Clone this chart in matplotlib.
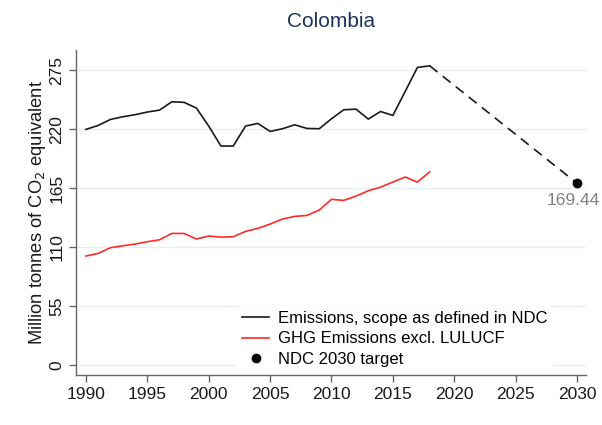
import matplotlib
matplotlib.use("Agg")
import matplotlib.pyplot as plt

plt.rcParams['font.family'] = ['Liberation Sans', 'DejaVu Sans']

years = list(range(1990, 2019))
ndc_scope = [219.7, 223.4, 229.0, 231.5, 233.4, 235.9, 237.7, 245.5, 244.9, 239.6,
             222.8, 204.2, 204.2, 222.8, 225.3, 217.8, 220.3, 224.0, 220.6, 220.3,
             229.6, 238.0, 238.6, 229.3, 236.4, 232.7, 255.0, 277.5, 279.0]
ghg_excl_lulucf = [101.6, 104.1, 109.4, 111.2, 112.8, 115.0, 116.8, 122.7, 122.7, 117.5,
                   120.3, 119.3, 119.6, 124.6, 127.4, 131.4, 136.1, 138.6, 139.5, 144.5,
                   154.5, 153.5, 157.5, 162.5, 165.9, 170.6, 175.3, 170.6, 180.2]
target_year = 2030
target_value = 169.44

xticks = [1990, 1995, 2000, 2005, 2010, 2015, 2020, 2025, 2030]
yticks = [0, 55, 110, 165, 220, 275]

fig = plt.figure(figsize=(6.02, 4.25), dpi=100)
ax = fig.add_axes([0.1262, 0.1176, 0.8472, 0.7644])

for y in yticks:
    ax.axhline(y, color='#e6eef2', lw=1.0, zorder=0)

ax.plot(years, ndc_scope, color='#1a1a1a', lw=1.2,
        label='Emissions, scope as defined in NDC', zorder=3)
ax.plot(years, ghg_excl_lulucf, color='#ff2a2a', lw=1.2,
        label='GHG Emissions excl. LULUCF', zorder=3)
ax.plot([years[-1], target_year], [ndc_scope[-1], target_value],
        color='#1a1a1a', lw=1.2, ls=(0, (6, 4)), zorder=3)
ax.plot([target_year], [target_value], marker='o', color='black', ms=6,
        label='NDC 2030 target', zorder=4, linestyle='none')
ax.annotate(f'{target_value:.2f}', (target_year, target_value),
            xytext=(-3, -7), textcoords='offset points', ha='center', va='top',
            color='#808080', fontsize=12.5)

ax.set_xlim(1989.19, 2030.73)
ax.set_ylim(-9.3, 293.6)
ax.set_xticks(xticks)
ax.set_yticks(yticks)
ax.tick_params(axis='both', labelsize=12.5, color='#666666', length=5,
               width=1, labelcolor='#1a1a1a')
for lbl in ax.get_yticklabels():
    lbl.set_rotation(90)
    lbl.set_va('center')

for side in ['top', 'right']:
    ax.spines[side].set_visible(False)
for side in ['left', 'bottom']:
    ax.spines[side].set_color('#666666')
    ax.spines[side].set_linewidth(1.0)

ax.set_ylabel('Million tonnes of CO$_2$ equivalent', fontsize=13.2,
              color='#1a1a1a', labelpad=1)
ax.set_title('Colombia', fontsize=15, color='#1e3559', pad=17)

leg = ax.legend(loc='upper left', bbox_to_anchor=(237 / 602, 1 - 306 / 425),
                bbox_transform=fig.transFigure, frameon=True, fontsize=12,
                handlelength=1.62, handletextpad=0.55, labelspacing=0.32,
                borderpad=0.3, borderaxespad=0)
leg.get_frame().set_facecolor('white')
leg.get_frame().set_edgecolor('none')
leg.get_frame().set_alpha(1)

fig.savefig('out.png', dpi=100, facecolor='white')
